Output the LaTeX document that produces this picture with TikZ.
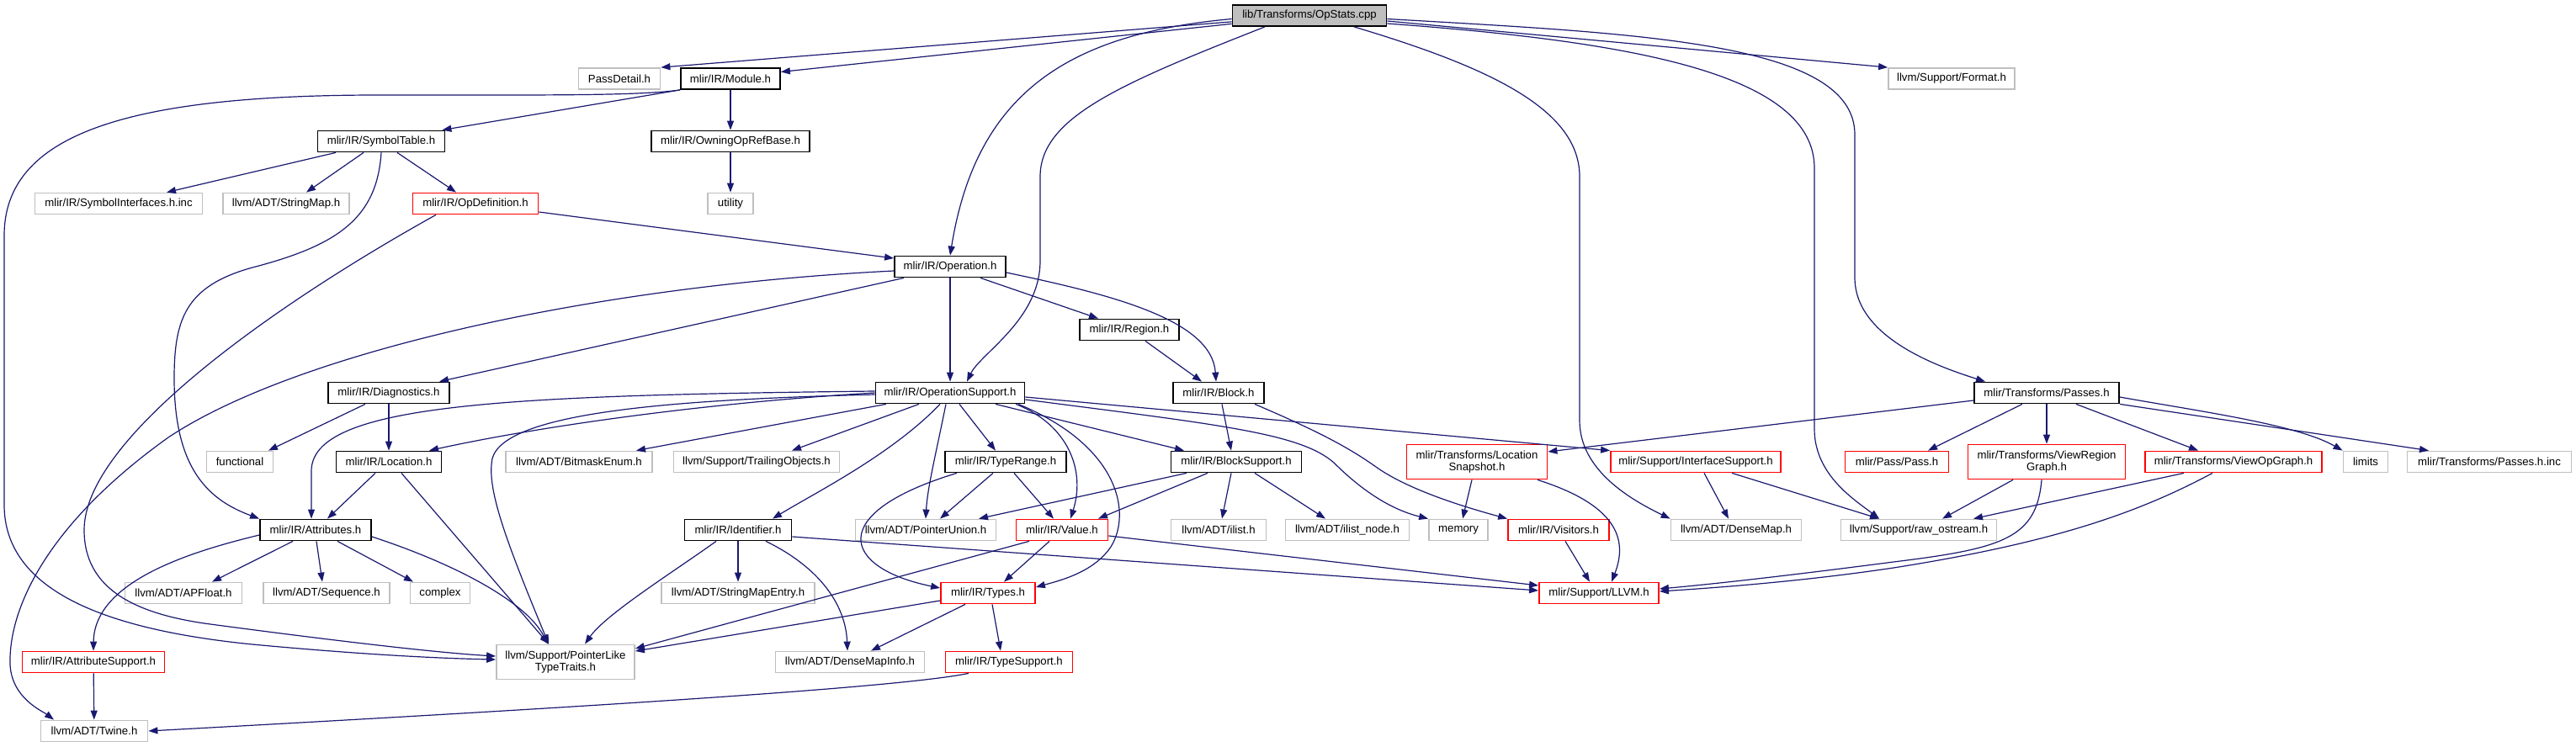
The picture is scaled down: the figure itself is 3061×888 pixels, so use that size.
\documentclass[tikz,border=0pt]{standalone}
\usepackage{fontspec}
\setmainfont{Liberation Sans}
\usepackage{tikz}
\usetikzlibrary{arrows.meta}
\usepackage{xcolor}
\definecolor{cnavy}{RGB}{25,25,112}
\definecolor{cgray}{RGB}{191,191,191}
\definecolor{cred}{RGB}{255,0,0}
\definecolor{lgray}{RGB}{191,191,191}
\tikzset{
  hfile/.style={
    rectangle, fill=white, line width=1.8pt,
    minimum height=25pt, inner sep=0pt,
    font=\fontsize{13.2}{14.6}\selectfont, align=center
  },
  srcfile/.style={hfile, fill=lgray, draw=black},
  docfile/.style={hfile, draw=black},
  extfile/.style={hfile, draw=cgray},
  cutfile/.style={hfile, draw=cred},
  twoline/.style={minimum height=41pt},
  arr/.style={-{Triangle[length=11pt,width=8pt]}, line width=1.2pt, color=cnavy}
}

\begin{document}
\begin{tikzpicture}[x=1pt, y=-1pt]
  \useasboundingbox (0,0) rectangle (3061,888);

    %% ---- rows 0-3 ---------------------------------------------------
    \node[srcfile, minimum width=183pt] (root) at (1556,18.5) {lib/Transforms/OpStats.cpp};

    \node[extfile, minimum width=97pt]  (pd)  at (736,93.5)  {PassDetail.h};
    \node[docfile, minimum width=118pt] (mod) at (868,93.5)  {mlir/IR/Module.h};
    \node[extfile, minimum width=150pt] (fmt) at (2319,93.5) {llvm/Support/Format.h};

    \node[docfile, minimum width=151pt] (symt) at (453,168) {mlir/IR/SymbolTable.h};
    \node[docfile, minimum width=188pt] (own)  at (868,168) {mlir/IR/OwningOpRefBase.h};

    \node[extfile, minimum width=199pt] (syminc) at (141,242) {mlir/IR/SymbolInterfaces.h.inc};
    \node[extfile, minimum width=150pt] (smap)   at (340,242) {llvm/ADT/StringMap.h};
    \node[cutfile, minimum width=149pt] (opdef)  at (565,242) {mlir/IR/OpDefinition.h};
    \node[extfile, minimum width=54pt]  (util)   at (868,242) {utility};

    %% ---- rows 4-6 ---------------------------------------------------
    \node[docfile, minimum width=132pt] (op)  at (1129,317) {mlir/IR/Operation.h};
    \node[docfile, minimum width=118pt] (reg) at (1342,392) {mlir/IR/Region.h};

    \node[docfile, minimum width=144pt] (diag)   at (462,467)  {mlir/IR/Diagnostics.h};
    \node[docfile, minimum width=177pt] (opsup)  at (1129,467) {mlir/IR/OperationSupport.h};
    \node[docfile, minimum width=108pt] (blk)    at (1448,467) {mlir/IR/Block.h};
    \node[docfile, minimum width=172pt] (passes) at (2432,467) {mlir/Transforms/Passes.h};

    \node[extfile, minimum width=79pt]  (func)    at (285,549)  {functional};
    \node[docfile, minimum width=125pt] (loc)     at (462,549)  {mlir/IR/Location.h};
    \node[extfile, minimum width=174pt] (bmask)   at (688,549)  {llvm/ADT/BitmaskEnum.h};
    \node[extfile, minimum width=197pt] (trail)   at (899,549)  {llvm/Support/TrailingObjects.h};
    \node[docfile, minimum width=144pt] (trange)  at (1195,549) {mlir/IR/TypeRange.h};
    \node[docfile, minimum width=155pt] (bsup)    at (1469,549) {mlir/IR/BlockSupport.h};
    \node[cutfile, twoline, minimum width=167pt] (locsnap) at (1755,549)
      {mlir/Transforms/Location\\Snapshot.h};
    \node[cutfile, minimum width=202pt] (isup)    at (2015,549) {mlir/Support/InterfaceSupport.h};
    \node[cutfile, minimum width=123pt] (pass)    at (2254,549) {mlir/Pass/Pass.h};
    \node[cutfile, twoline, minimum width=187pt] (vrg) at (2432,549)
      {mlir/Transforms/ViewRegion\\Graph.h};
    \node[cutfile, minimum width=210pt] (vog)     at (2654,549) {mlir/Transforms/ViewOpGraph.h};
    \node[extfile, minimum width=53pt]  (lim)     at (2811,549) {limits};
    \node[extfile, minimum width=195pt] (pinc)    at (2958,549) {mlir/Transforms/Passes.h.inc};

    %% ---- rows 7-10 --------------------------------------------------
    \node[docfile, minimum width=132pt] (attr)   at (375,630)  {mlir/IR/Attributes.h};
    \node[docfile, minimum width=127pt] (ident)  at (877,630)  {mlir/IR/Identifier.h};
    \node[extfile, minimum width=167pt] (punion) at (1100,630) {llvm/ADT/PointerUnion.h};
    \node[cutfile, minimum width=109pt] (val)    at (1262,630) {mlir/IR/Value.h};
    \node[extfile, minimum width=113pt] (ilist)  at (1448,630) {llvm/ADT/ilist.h};
    \node[extfile, minimum width=147pt] (inode)  at (1601,630) {llvm/ADT/ilist\_node.h};
    \node[extfile, minimum width=70pt]  (mem)    at (1733,630) {memory};
    \node[cutfile, minimum width=120pt] (vis)    at (1852,630) {mlir/IR/Visitors.h};
    \node[extfile, minimum width=155pt] (dmap)   at (2063,630) {llvm/ADT/DenseMap.h};
    \node[extfile, minimum width=185pt] (raw)    at (2280,630) {llvm/Support/raw\_ostream.h};

    \node[extfile, minimum width=139pt] (apf)     at (218,705)  {llvm/ADT/APFloat.h};
    \node[extfile, minimum width=150pt] (seq)     at (388,705)  {llvm/ADT/Sequence.h};
    \node[extfile, minimum width=71pt]  (cplx)    at (523,705)  {complex};
    \node[extfile, minimum width=182pt] (smentry) at (877,705)  {llvm/ADT/StringMapEntry.h};
    \node[cutfile, minimum width=112pt] (types)   at (1174,705) {mlir/IR/Types.h};
    \node[cutfile, minimum width=142pt] (llvm)    at (1900,705) {mlir/Support/LLVM.h};

    \node[cutfile, minimum width=169pt] (asup)   at (111,787)  {mlir/IR/AttributeSupport.h};
    \node[extfile, twoline, minimum width=164pt] (plike) at (672,787)
      {llvm/Support/PointerLike\\TypeTraits.h};
    \node[extfile, minimum width=177pt] (dminfo) at (1010,787) {llvm/ADT/DenseMapInfo.h};
    \node[cutfile, minimum width=151pt] (tsup)   at (1199,787) {mlir/IR/TypeSupport.h};

    \node[extfile, minimum width=127pt] (twine) at (112,869) {llvm/ADT/Twine.h};

    %% ---- edges from the source file ---------------------------------
    \draw[arr] (root) -- (pd.north east);
    \draw[arr] (root) -- ([yshift=8pt]mod.east);
    \draw[arr] ([yshift=-4pt]root.west) .. controls (1270,40) and (1160,110) .. (op.north);
    \draw[arr] ([xshift=-53pt]root.south) .. controls (1330,100) and (1236,140) .. (1236,210)
      -- (1236,310) .. controls (1236,380) and (1165,420) .. ([xshift=20pt]opsup.north);
    \draw[arr] ([xshift=53pt]root.south) .. controls (1770,80) and (1877,130) .. (1877,210)
      -- (1877,500) .. controls (1877,560) and (1940,595) .. (dmap.north west);
    \draw[arr] ([yshift=-4pt]root.east) .. controls (1950,40) and (2204,50) .. (2204,160)
      -- (2204,330) .. controls (2204,400) and (2300,435) .. ([xshift=-73pt]passes.north);
    \draw[arr] ([yshift=-6.5pt]root.east) -- (fmt.north west);
    \draw[arr] ([yshift=-9.5pt]root.east) .. controls (1950,50) and (2156,90) .. (2156,200)
      -- (2156,510) .. controls (2156,565) and (2205,595) .. ([xshift=-47pt]raw.north);

    %% ---- Module / SymbolTable / OpDefinition ------------------------
    \draw[arr] (mod.south west) -- ([xshift=-4pt]symt.north east);
    \draw[arr] (mod) -- (own);
    \draw[arr] (mod.south west) .. controls (760,114) and (650,113) .. (450,113)
      .. controls (150,113) and (5,160) .. (5,280) -- (5,600)
      .. controls (5,700) and (120,748) .. (300,766)
      .. controls (450,780) and (540,783) .. ([yshift=3pt]plike.west);
    \draw[arr] (own) -- (util);

    \draw[arr] ([xshift=-54pt]symt.south) -- ([xshift=57pt]syminc.north);
    \draw[arr] ([xshift=-21pt]symt.south) -- ([xshift=24pt]smap.north);
    \draw[arr] ([xshift=19pt]symt.south) -- ([xshift=-23pt]opdef.north);
    \draw[arr] (symt.south) .. controls (448,260) and (400,292) .. (300,318)
      .. controls (220,340) and (207,380) .. (207,450)
      .. controls (207,560) and (250,595) .. (attr.north west);

    \draw[arr] ([yshift=-10pt]opdef.east) -- ([yshift=10pt]op.west);
    \draw[arr] ([xshift=-47pt]opdef.south) .. controls (330,360) and (100,520) .. (100,630)
      .. controls (100,700) and (160,730) .. (250,742)
      .. controls (400,762) and (520,776) .. ([yshift=7pt]plike.west);

    %% ---- Operation / Region / Diagnostics ---------------------------
    \draw[arr] (op) -- (opsup);
    \draw[arr] ([xshift=36pt]op.south) -- ([xshift=-37pt]reg.north);
    \draw[arr] ([yshift=-7pt]op.east) .. controls (1320,350) and (1440,380) .. ([xshift=-3pt]blk.north);
    \draw[arr] ([xshift=-55pt]op.south) -- ([xshift=60pt]diag.north);
    \draw[arr] ([yshift=-5pt]op.west) .. controls (700,340) and (350,420) .. (200,520)
      .. controls (60,620) and (10,720) .. (12,790)
      .. controls (14,830) and (50,845) .. ([xshift=-48pt]twine.north);
    \draw[arr] ([xshift=19pt]reg.south) -- ([xshift=-20pt]blk.north);

    \draw[arr] ([xshift=-28pt]diag.south) -- ([xshift=34pt]func.north);
    \draw[arr] (diag) -- (loc);

    %% ---- OperationSupport -------------------------------------------
    \draw[arr] ([yshift=2pt]opsup.west) .. controls (600,470) and (370,480) .. (370,560)
      -- ([xshift=-5pt]attr.north);
    \draw[arr] (opsup.west) .. controls (850,478) and (650,505) .. ([xshift=48pt]loc.north);
    \draw[arr] ([yshift=-2pt]opsup.west) .. controls (800,475) and (600,490) .. (585,545)
      .. controls (578,580) and (600,640) .. ([xshift=-20pt]plike.north);
    \draw[arr] ([xshift=-76pt]opsup.south) -- ([xshift=68pt]bmask.north);
    \draw[arr] ([xshift=-37pt]opsup.south) -- ([xshift=42pt]trail.north);
    \draw[arr] ([xshift=-12pt]opsup.south) .. controls (1060,540) and (970,585) .. ([xshift=41pt]ident.north);
    \draw[arr] ([xshift=-5pt]opsup.south) .. controls (1112,540) and (1102,580) .. (punion.north);
    \draw[arr] ([xshift=11pt]opsup.south) -- ([xshift=-12pt]trange.north);
    \draw[arr] ([xshift=54pt]opsup.south) -- ([xshift=-62pt]bsup.north);
    \draw[arr] ([xshift=78pt]opsup.south) .. controls (1270,505) and (1290,560) .. ([xshift=10pt]val.north);
    \draw[arr] ([xshift=81pt]opsup.south) .. controls (1330,530) and (1345,610) .. (1320,650)
      .. controls (1300,680) and (1260,690) .. ([yshift=7pt]types.east);
    \draw[arr] ([yshift=-5pt]opsup.east) -- (isup.north west);
    \draw[arr] ([yshift=-8pt]opsup.east) .. controls (1450,505) and (1545,515) .. (1585,550)
      .. controls (1615,580) and (1650,605) .. (mem.north west);

    %% ---- Block / TypeRange / BlockSupport ---------------------------
    \draw[arr] ([xshift=4pt]blk.south) -- ([xshift=-6pt]bsup.north);
    \draw[arr] ([xshift=43pt]blk.south) .. controls (1560,510) and (1600,530) .. (1635,555)
      .. controls (1670,580) and (1730,600) .. (vis.north west);

    \draw[arr] ([xshift=-58pt]trange.south) .. controls (980,610) and (1000,675) .. ([yshift=6pt]types.west);
    \draw[arr] ([xshift=-15pt]trange.south) -- ([xshift=17pt]punion.north);
    \draw[arr] ([xshift=10pt]trange.south) -- ([xshift=-10pt]val.north);

    \draw[arr] ([xshift=-59pt]bsup.south) -- ([xshift=63pt]punion.north);
    \draw[arr] ([xshift=-34pt]bsup.south) -- ([xshift=43pt]val.north);
    \draw[arr] ([xshift=-6pt]bsup.south) -- ([xshift=4pt]ilist.north);
    \draw[arr] ([xshift=22pt]bsup.south) -- ([xshift=-26pt]inode.north);

    %% ---- Value / Types / Identifier ---------------------------------
    \draw[arr] ([yshift=-7pt]val.east) -- ([yshift=9pt]llvm.west);
    \draw[arr] ([xshift=-15pt]val.south) -- ([xshift=19pt]types.north);
    \draw[arr] ([xshift=-39pt]val.south) -- ([yshift=16pt]plike.east);

    \draw[arr] ([yshift=-9pt]types.west) -- ([yshift=13pt]plike.east);
    \draw[arr] ([xshift=-27pt]types.south) -- ([xshift=25pt]dminfo.north);
    \draw[arr] ([xshift=5pt]types.south) -- ([xshift=-10pt]tsup.north);
    \draw[arr] ([xshift=-48pt]tsup.south) .. controls (1080,815) and (800,835) .. (twine.east);

    \draw[arr] ([xshift=-26pt]ident.south) .. controls (800,680) and (720,730) .. ([xshift=23pt]plike.north);
    \draw[arr] (ident) -- (smentry);
    \draw[arr] ([xshift=33pt]ident.south) .. controls (975,675) and (1005,720) .. ([xshift=-3pt]dminfo.north);
    \draw[arr] ([yshift=-8pt]ident.east) -- ([yshift=3pt]llvm.west);

    \draw[arr] ([xshift=8pt]vis.south) -- ([xshift=-11pt]llvm.north);

    %% ---- Passes and friends -----------------------------------------
    \draw[arr] ([xshift=-6pt]locsnap.south) -- ([xshift=5pt]mem.north);
    \draw[arr] ([xshift=72pt]locsnap.south) .. controls (1920,600) and (1935,640) .. ([xshift=15pt]llvm.north);

    \draw[arr] ([yshift=-9pt]passes.west) -- ([yshift=12pt]locsnap.east);
    \draw[arr] ([xshift=-29pt]passes.south) -- ([xshift=37pt]pass.north);
    \draw[arr] (passes) -- (vrg);
    \draw[arr] ([xshift=35pt]passes.south) -- ([xshift=-42pt]vog.north);
    \draw[arr] ([yshift=-5pt]passes.east) .. controls (2620,490) and (2730,505) .. (lim.north west);
    \draw[arr] (passes.south east) -- ([xshift=-72pt]pinc.north);

    \draw[arr] ([xshift=10pt]isup.south) -- ([xshift=-9pt]dmap.north);
    \draw[arr] ([xshift=43pt]isup.south) -- ([xshift=-47pt]raw.north);

    \draw[arr] ([xshift=-40pt]vrg.south) -- ([xshift=28pt]raw.north);
    \draw[arr] ([xshift=-6pt]vrg.south) .. controls (2420,640) and (2380,652) .. (2250,668)
      .. controls (2150,681) and (2050,693) .. ([yshift=5pt]llvm.east);
    \draw[arr] ([xshift=-59pt]vog.south) -- ([xshift=65pt]raw.north);
    \draw[arr] ([xshift=-25pt]vog.south) .. controls (2540,610) and (2440,645) .. (2250,675)
      .. controls (2150,690) and (2050,698) .. ([yshift=2pt]llvm.east);

    %% ---- Attributes / Location --------------------------------------
    \draw[arr] ([yshift=-6pt]attr.west) .. controls (230,655) and (112,690) .. (asup.north);
    \draw[arr] ([xshift=-27pt]attr.south) -- ([xshift=34pt]apf.north);
    \draw[arr] ([xshift=1pt]attr.south) -- ([xshift=-5pt]seq.north);
    \draw[arr] ([xshift=26pt]attr.south) -- ([xshift=-32pt]cplx.north);
    \draw[arr] ([yshift=-8pt]attr.east) .. controls (540,670) and (625,715) .. ([xshift=-21pt]plike.north);

    \draw[arr] ([xshift=-16pt]loc.south) -- ([xshift=14pt]attr.north);
    \draw[arr] ([xshift=15pt]loc.south) -- ([xshift=-20pt]plike.north);

    \draw[arr] (asup) -- (twine);

\end{tikzpicture}
\end{document}
